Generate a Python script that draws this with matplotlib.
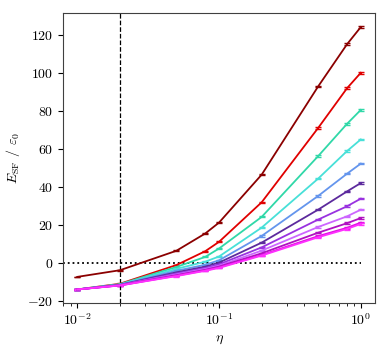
import matplotlib
matplotlib.use('Agg')

import matplotlib.pyplot as plt

# ---------------- 数据 ----------------
eta = [0.01, 0.02, 0.05, 0.08, 0.1, 0.2, 0.5, 0.8, 1.0]
err = [0.2, 0.2, 0.2, 0.25, 0.25, 0.3, 0.4, 0.4, 0.4]

e_darkred = [-7.2, -3.7, 6.5, 15.6, 21.3, 46.5, 92.8, 115.0, 124.0]
e_red = [-13.8, -10.8, -1.0, 6.3, 11.2, 32.0, 71.0, 91.9, 100.0]
e_turq = [-13.8, -11.0, -2.0, 3.3, 7.7, 24.3, 56.2, 73.2, 80.5]
e_lturq = [-13.8, -11.2, -3.0, 0.8, 3.5, 18.7, 44.4, 58.9, 65.0]
e_cflower = [-13.8, -11.3, -4.0, -0.8, 1.5, 14.3, 35.3, 47.0, 52.3]
e_purple = [-13.8, -11.4, -4.8, -1.8, 0.3, 10.8, 28.1, 37.7, 42.1]
e_bviolet = [-13.8, -11.5, -5.4, -2.5, -0.6, 8.3, 22.9, 29.9, 33.9]
e_violet = [-13.8, -11.6, -5.9, -3.0, -1.3, 6.6, 19.0, 24.6, 28.1]
e_dviolet = [-13.8, -11.6, -6.3, -3.5, -1.8, 5.2, 16.0, 21.0, 23.7]
e_magenta = [-13.8, -11.7, -6.6, -3.8, -2.2, 4.3, 14.2, 18.6, 21.3]
e_magenta2 = [-13.8, -11.7, -6.8, -4.0, -2.5, 4.0, 13.6, 18.0, 20.6]

series = [e_darkred, e_red, e_turq, e_lturq, e_cflower, e_purple,
          e_bviolet, e_violet, e_dviolet, e_magenta, e_magenta2]
colors = ['#8b0000', '#e00000', '#30d8a8', '#48e0d8', '#6495ed', '#5c2a9d',
          '#9932e0', '#cc66ff', '#b010c0', '#e010e0', '#ff30ff']

eta_c = 0.02

# ---------------- 绘图 ----------------
plt.rcParams['font.family'] = 'serif'
plt.rcParams['font.serif'] = ['cmr10', 'DejaVu Serif']
plt.rcParams['mathtext.fontset'] = 'cm'
plt.rcParams['axes.formatter.use_mathtext'] = True

fig = plt.figure(figsize=(3.89, 3.54), dpi=100)
ax = fig.add_axes([0.162, 0.144, 0.802, 0.819])

for y, c in zip(series, colors):
    ax.errorbar(eta, y, yerr=err, color=c, lw=1.3, capsize=2.2, elinewidth=0.9)

ax.set_xscale('log')
ax.axvline(eta_c, color='k', ls='--', lw=0.9)
ax.axhline(0, xmax=0.955, color='k', ls=':', lw=1.3)

ax.set_xlabel(r'$\eta$')
ax.set_ylabel(r'$E_{\rm SF}$ / $\varepsilon_0$')
ax.set_yticks([-20, 0, 20, 40, 60, 80, 100, 120])
for s in ax.spines.values():
    s.set_edgecolor('#404040')

fig.savefig('out.png', dpi=100)
